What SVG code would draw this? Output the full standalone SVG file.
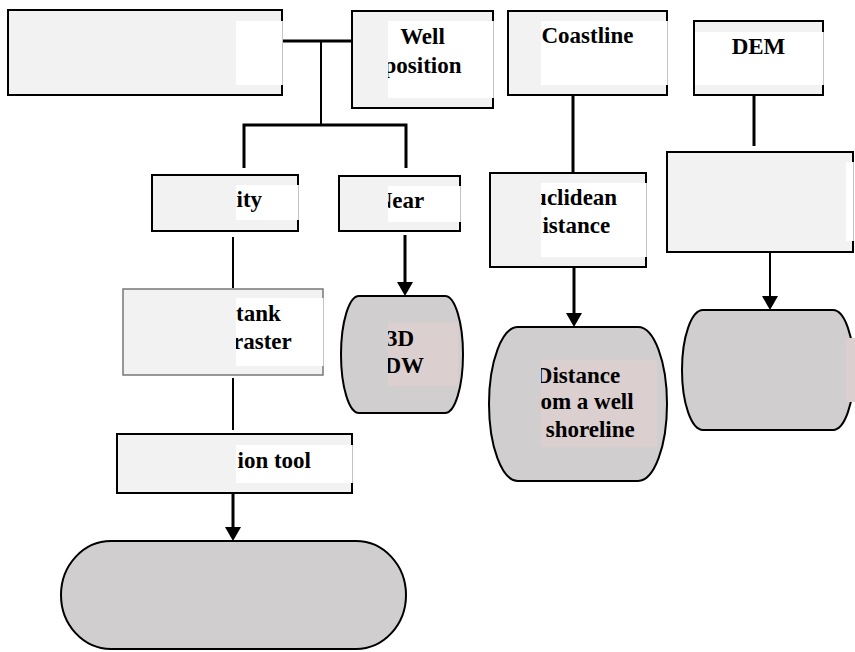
<svg xmlns="http://www.w3.org/2000/svg" width="855" height="652" viewBox="0 0 855 652">
<style>
.box{fill:#f2f2f2;stroke:#000;stroke-width:2}
.box2{fill:#f2f2f2;stroke:#777;stroke-width:1.5}
.term{fill:#d0cecf;stroke:#000;stroke-width:2}
.hl{fill:#fff}
.pk{fill:#dccfcf}
.edge{fill:none;stroke:#c4c4c4;stroke-width:1}
.t{font-family:"Liberation Serif","Times New Roman",serif;font-weight:bold;font-size:23px;fill:#000}
.c{fill:none;stroke:#000;stroke-width:3}
.c2{fill:none;stroke:#000;stroke-width:2}
</style>
<defs>
<marker id="ah" markerUnits="userSpaceOnUse" markerWidth="14" markerHeight="16" viewBox="0 0 14 16" refX="0" refY="8" orient="auto">
<path d="M0,0 L14,8 L0,16 Z" fill="#000"/>
</marker>
<clipPath id="cWell"><rect x="388" y="21" width="106" height="77"/></clipPath>
<clipPath id="cNear"><rect x="388" y="186" width="73" height="36"/></clipPath>
<clipPath id="cEucl"><rect x="541" y="183" width="106" height="74"/></clipPath>
<clipPath id="cTank"><rect x="236" y="298" width="88" height="68"/></clipPath>
<clipPath id="c3d"><rect x="388" y="323" width="70" height="63"/></clipPath>
<clipPath id="cDist"><rect x="541" y="360" width="116" height="87"/></clipPath>
</defs>

<g id="connectors">
<path class="c" d="M282,41 H352"/>
<path class="c2" d="M321,41 V125"/>
<path class="c" d="M244,168 V125 H406 V168"/>
<path class="c2" d="M233,237 V288"/>
<path class="c2" d="M233,378 V430"/>
<path class="c" d="M573,95 V173"/>
<path class="c" d="M754,95 V146"/>
<path class="c" d="M405,235 V282" marker-end="url(#ah)"/>
<path class="c" d="M574,267 V313" marker-end="url(#ah)"/>
<path class="c2" d="M770,252 V296" marker-end="url(#ah)"/>
<path class="c" d="M233,493 V527" marker-end="url(#ah)"/>
</g>

<g id="root">
<rect class="box" x="8" y="10" width="274" height="85"/>
<rect class="hl" x="236" y="21" width="47" height="64"/>
<path class="edge" d="M282.5,21 V85"/>
</g>

<g id="well-position">
<rect class="box" x="352" y="11" width="141" height="97"/>
<rect class="hl" x="388" y="21" width="106" height="77"/>
<path class="edge" d="M493.5,21 V98"/>
<g clip-path="url(#cWell)">
<text class="t" x="422.5" y="44" text-anchor="middle">Well</text>
<text class="t" x="422.5" y="73" text-anchor="middle">position</text>
</g>
</g>

<g id="coastline">
<rect class="box" x="508" y="11" width="159" height="84"/>
<rect class="hl" x="541" y="21" width="127" height="64"/>
<path class="edge" d="M667.5,21 V85"/>
<text class="t" x="587.5" y="43" text-anchor="middle">Coastline</text>
</g>

<g id="dem">
<rect class="box" x="694" y="21" width="129" height="74"/>
<rect class="hl" x="695" y="32" width="129" height="53"/>
<path class="edge" d="M823.5,32 V85"/>
<text class="t" x="758.5" y="54" text-anchor="middle">DEM</text>
</g>

<g id="density">
<rect class="box" x="152" y="175" width="146" height="56"/>
<rect class="hl" x="236" y="185" width="63" height="35"/>
<path class="edge" d="M298.5,185 V220"/>
<text class="t" x="236.5" y="207">ity</text>
</g>

<g id="near">
<rect class="box" x="339" y="176" width="121" height="55"/>
<rect class="hl" x="388" y="186" width="73" height="36"/>
<path class="edge" d="M460.5,186 V222"/>
<g clip-path="url(#cNear)">
<text class="t" x="400" y="208" text-anchor="middle">Near</text>
</g>
</g>

<g id="euclidean">
<rect class="box" x="490" y="173" width="156" height="94"/>
<rect class="hl" x="541" y="183" width="106" height="74"/>
<path class="edge" d="M646.5,183 V257"/>
<g clip-path="url(#cEucl)">
<text class="t" x="534.1" y="205">uclidean</text>
<text class="t" x="542.4" y="233">istance</text>
</g>
</g>

<g id="dem-process">
<rect class="box" x="667" y="152" width="186" height="100"/>
<rect class="hl" x="846" y="162" width="8" height="79"/>
<path class="edge" d="M853.5,162 V241"/>
</g>

<g id="tank-raster">
<rect class="box2" x="123" y="289" width="200" height="86"/>
<rect class="hl" x="236" y="298" width="88" height="68"/>
<path class="edge" d="M323.5,298 V366"/>
<g clip-path="url(#cTank)">
<text class="t" x="236" y="321">tank</text>
<text class="t" x="233" y="349">raster</text>
</g>
</g>

<g id="interpolation-tool">
<rect class="box" x="117" y="434" width="235" height="59"/>
<rect class="hl" x="236" y="445" width="116" height="38"/>
<path class="edge" d="M352.5,445 V483"/>
<text class="t" x="237.5" y="468">ion tool</text>
</g>

<g id="dw-3d">
<path class="term" d="M359,296 H445 A18 58.5 0 0 1 445,413 H359 A18 58.5 0 0 1 359,296 Z"/>
<rect class="pk" x="388" y="323" width="70" height="63"/>
<g clip-path="url(#c3d)">
<text class="t" x="386" y="346">3D</text>
<text class="t" x="384.4" y="373">DW</text>
</g>
</g>

<g id="distance-shoreline">
<path class="term" d="M518,327 H638 A29 77 0 0 1 638,481 H518 A29 77 0 0 1 518,327 Z"/>
<rect class="pk" x="541" y="360" width="116" height="87"/>
<g clip-path="url(#cDist)">
<text class="t" x="535.8" y="383">Distance</text>
<text class="t" x="540.4" y="409">om a well</text>
<text class="t" x="545.7" y="437">shoreline</text>
</g>
</g>

<g id="dem-output">
<path class="term" d="M703,310 H833 A21 60 0 0 1 833,430 H703 A21 60 0 0 1 703,310 Z"/>
<rect class="pk" x="846" y="338" width="9" height="64"/>
</g>

<g id="final-output">
<path class="term" d="M111,541 H356 A50 54 0 0 1 356,649 H111 A50 54 0 0 1 111,541 Z"/>
</g>
</svg>
